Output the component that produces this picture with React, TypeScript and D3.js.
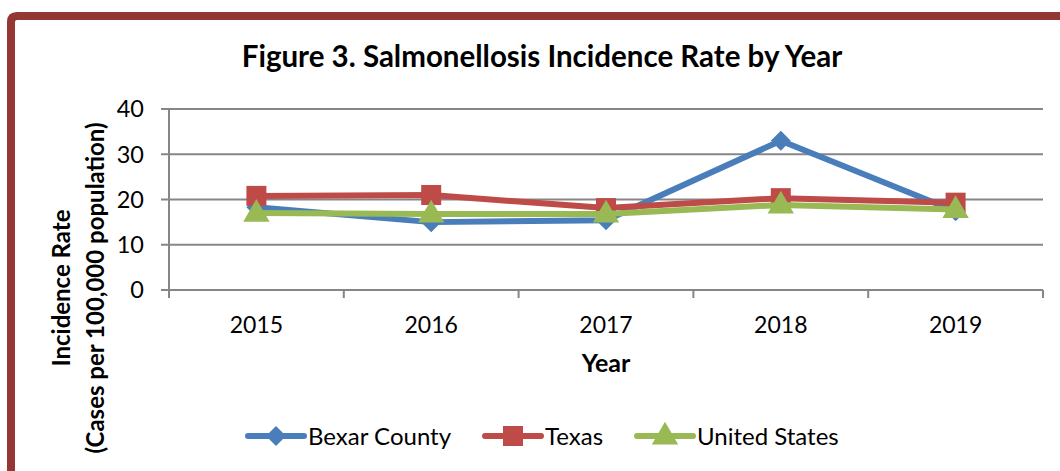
import React from "react";
import * as d3 from "d3";

const years = ["2015", "2016", "2017", "2018", "2019"];
const bexar = [18.3, 15.0, 15.4, 33.0, 17.4];
const texas = [20.8, 21.0, 18.1, 20.3, 19.3];
const unitedStates = [17.0, 16.8, 16.8, 18.8, 17.8];
const yTicks = [0, 10, 20, 30, 40];

const series = [
  { name: "Bexar County", values: bexar, color: "#4A7EBB", marker: "diamond" },
  { name: "Texas", values: texas, color: "#BE4B48", marker: "square" },
  { name: "United States", values: unitedStates, color: "#98B954", marker: "triangle" },
];

const FONT = "Lato, 'Open Sans', sans-serif";

const Marker = ({ type, x, y, color }: { type: string; x: number; y: number; color: string }) => {
  if (type === "diamond") {
    const r = 10;
    return <path d={`M${x},${y - r}L${x + r},${y}L${x},${y + r}L${x - r},${y}Z`} fill={color} />;
  }
  if (type === "square") {
    return <rect x={x - 10} y={y - 10} width={20} height={20} fill={color} />;
  }
  const s = d3.symbol(d3.symbolTriangle, 300)();
  return <path d={s || ""} transform={`translate(${x},${y + 1})`} fill={color} />;
};

export default function App() {
  const left = 169;
  const right = 1043;
  const top = 109;
  const bottom = 290;

  const x = d3.scaleBand<string>().domain(years).range([left, right]).padding(0);
  const y = d3.scaleLinear().domain([0, 40]).range([bottom, top]);
  const cx = (d: string) => (x(d) as number) + x.bandwidth() / 2;

  const line = d3
    .line<number>()
    .x((_, i) => cx(years[i]))
    .y((v) => y(v));

  const xTickPos = years.map((d) => x(d) as number).concat([right]);

  const legendX = [248, 485, 637];

  return (
    <svg
      width={1060}
      height={471}
      style={{ position: "absolute", left: 0, top: 0, background: "#fff" }}
      fontFamily={FONT}
    >
      {/* frame */}
      <path
        d="M11,471 L11,22 Q11,16 17,16 L1060,16"
        fill="none"
        stroke="#943634"
        strokeWidth={8}
      />

      <text x={542} y={67} textAnchor="middle" fontSize={29.5} fontWeight="bold" fill="#000">
        Figure 3. Salmonellosis Incidence Rate by Year
      </text>

      {/* gridlines */}
      {yTicks.map((t) => (
        <g key={t}>
          <line x1={left - 8} x2={right} y1={y(t)} y2={y(t)} stroke="#868686" strokeWidth={2} />
          <text x={144} y={y(t)} dy="0.36em" textAnchor="end" fontSize={23.5} fill="#000">
            {t}
          </text>
        </g>
      ))}
      <line x1={left} x2={left} y1={top} y2={bottom} stroke="#868686" strokeWidth={2} />
      {xTickPos.map((p, i) => (
        <line key={i} x1={p} x2={p} y1={bottom} y2={bottom + 8} stroke="#868686" strokeWidth={2} />
      ))}
      {years.map((d) => (
        <text key={d} x={cx(d)} y={333} textAnchor="middle" fontSize={23} fill="#000">
          {d}
        </text>
      ))}

      <text x={606} y={372} textAnchor="middle" fontSize={25} fontWeight="bold" fill="#000">
        Year
      </text>
      <g transform="translate(62,288) rotate(-90)">
        <text x={0} y={8} textAnchor="middle" fontSize={24} fontWeight="bold" fill="#000">
          Incidence Rate
        </text>
        <text x={0} y={42} textAnchor="middle" fontSize={24} fontWeight="bold" fill="#000">
          (Cases per 100,000 population)
        </text>
      </g>

      {/* series */}
      {series.map((s) => (
        <g key={s.name}>
          <path d={line(s.values) || ""} fill="none" stroke={s.color} strokeWidth={6} strokeLinejoin="round" />
          {s.values.map((v, i) => (
            <Marker key={i} type={s.marker} x={cx(years[i])} y={y(v)} color={s.color} />
          ))}
        </g>
      ))}

      {/* legend */}
      {series.map((s, i) => (
        <g key={s.name}>
          <line
            x1={legendX[i]}
            x2={legendX[i] + 56}
            y1={436}
            y2={436}
            stroke={s.color}
            strokeWidth={6}
            strokeLinecap="round"
          />
          <Marker type={s.marker} x={legendX[i] + 28} y={436} color={s.color} />
          <text x={legendX[i] + 60} y={436} dy="0.36em" fontSize={24} fill="#000">
            {s.name}
          </text>
        </g>
      ))}
    </svg>
  );
}
